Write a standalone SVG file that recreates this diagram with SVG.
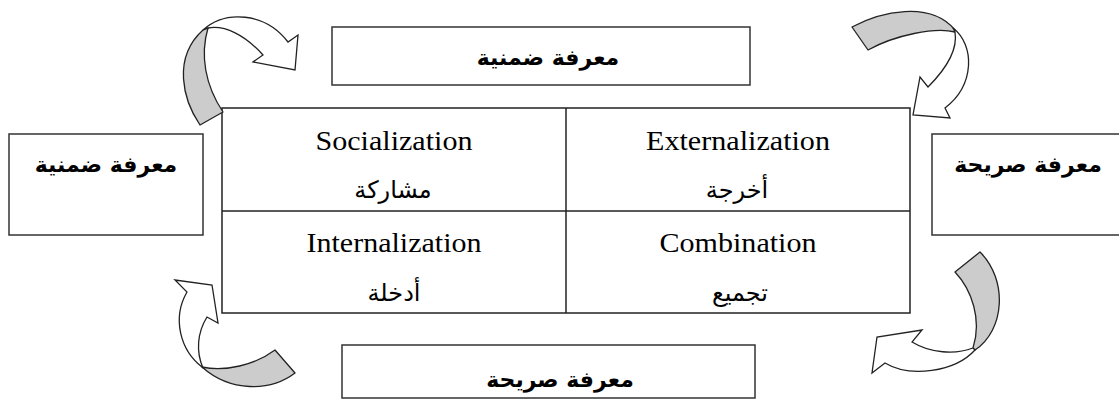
<svg xmlns="http://www.w3.org/2000/svg" width="1119" height="401" viewBox="0 0 1119 401">
  <style>
    .box { fill: #ffffff; stroke: #333333; stroke-width: 1.5; }
    .grid { fill: none; stroke: #222222; stroke-width: 1.5; }
    .label { font-family: "DejaVu Sans", "Noto Sans", sans-serif; font-weight: bold; font-size: 22px; fill: #000000; text-anchor: middle; }
    .en { font-family: "Liberation Serif", serif; font-size: 27px; fill: #000000; text-anchor: middle; }
    .ar { font-family: "Liberation Serif", "DejaVu Sans", serif; font-size: 24px; fill: #000000; text-anchor: middle; }
    .ribbon { fill: #cccccc; stroke: #222222; stroke-width: 1.3; stroke-linejoin: round; }
    .shaft { fill: #ffffff; stroke: #222222; stroke-width: 1.3; stroke-linejoin: miter; }
  </style>

  <!-- outer knowledge boxes -->
  <g id="top-tacit">
    <rect class="box" x="332" y="27" width="418" height="58"/>
    <text class="label" x="548" y="65">معرفة ضمنية</text>
  </g>
  <g id="bottom-explicit">
    <rect class="box" x="342" y="345" width="413" height="53"/>
    <text class="label" x="560" y="387">معرفة صريحة</text>
  </g>
  <g id="left-tacit">
    <rect class="box" x="9" y="134" width="194" height="101"/>
    <text class="label" x="106" y="172">معرفة ضمنية</text>
  </g>
  <g id="right-explicit">
    <rect class="box" x="932" y="134" width="195" height="101"/>
    <text class="label" x="1028" y="172">معرفة صريحة</text>
  </g>

  <!-- SECI matrix -->
  <g id="matrix">
    <rect class="grid" x="222" y="108" width="688" height="205"/>
    <line class="grid" x1="566" y1="108" x2="566" y2="313"/>
    <line class="grid" x1="222" y1="211" x2="910" y2="211"/>
  </g>
  <g id="socialization">
    <text class="en" x="394" y="150" textLength="157" lengthAdjust="spacingAndGlyphs">Socialization</text>
    <text class="ar" x="393" y="198">مشاركة</text>
  </g>
  <g id="externalization">
    <text class="en" x="738" y="150" textLength="184" lengthAdjust="spacingAndGlyphs">Externalization</text>
    <text class="ar" x="737" y="198">أخرجة</text>
  </g>
  <g id="internalization">
    <text class="en" x="394" y="252" textLength="175" lengthAdjust="spacingAndGlyphs">Internalization</text>
    <text class="ar" x="394" y="301">أدخلة</text>
  </g>
  <g id="combination">
    <text class="en" x="738" y="252" textLength="157" lengthAdjust="spacingAndGlyphs">Combination</text>
    <text class="ar" x="740" y="301">تجميع</text>
  </g>

  <!-- curved ribbon arrows circling the matrix -->
  <g id="connectors">
    <g id="arrow-top-left">
      <path class="ribbon" d="M200,125 C183,100 172,58 203,30 L208,28 C200,55 205,85 223,112 Z"/>
      <path class="shaft" d="M203,30 C225,10 265,12 288,42 L298,35 L295,70 L253,62 L263,55 C245,35 225,25 208,28 Z"/>
    </g>
    <g id="arrow-top-right">
      <path class="ribbon" d="M852,27 C880,12 930,0 955,30 L955,32 C935,27 895,35 868,50 Z"/>
      <path class="shaft" d="M953,28 C975,45 975,85 945,108 L950,118 L913,115 L920,77 L928,87 C945,70 958,50 955,32 Z"/>
    </g>
    <g id="arrow-bottom-right">
      <path class="ribbon" d="M955,272 C972,290 982,320 973,348 L975,350 C1005,330 1008,280 980,252 Z"/>
      <path class="shaft" d="M975,350 C955,372 910,378 885,363 L872,373 L877,337 L922,330 L912,342 C930,353 955,355 973,348 Z"/>
    </g>
    <g id="arrow-bottom-left">
      <path class="ribbon" d="M202,367 C225,372 255,365 275,350 L295,373 C270,392 230,392 202,367 Z"/>
      <path class="shaft" d="M202,367 C180,350 172,318 187,292 L175,280 L212,285 L218,323 L207,317 C197,333 196,352 203,368 Z"/>
    </g>
  </g>
</svg>
